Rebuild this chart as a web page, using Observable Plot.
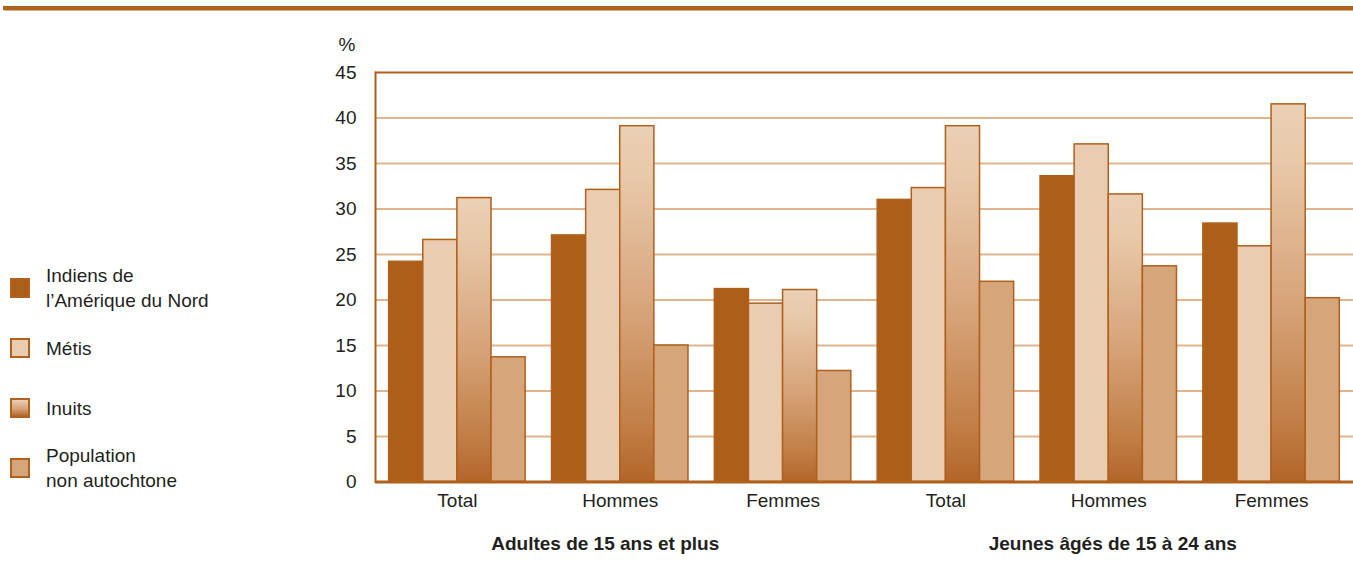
<!DOCTYPE html>
<html lang="fr">
<head>
<meta charset="utf-8">
<script src="https://cdn.jsdelivr.net/npm/d3@7"></script>
<script src="https://cdn.jsdelivr.net/npm/@observablehq/plot@0.6"></script>
<style>
  body { margin: 0; background: #fff; font-family: "Liberation Sans", Arial, sans-serif; color: #231f20; }
  #wrap { position: relative; width: 1353px; height: 577px; overflow: hidden; }
  #rule { position: absolute; left: 3px; right: 0; top: 6px; height: 4px; background: #b0621e; box-shadow: 0 0 1px 0.5px #dcab80; }
  #chart { position: absolute; left: 0; top: 0; }
  #legend { position: absolute; left: 10px; top: 258px; }
  .item { display: flex; align-items: center; height: 60px; }
  .sw { width: 20px; height: 20px; box-sizing: border-box; border: 2px solid #b0621e; flex: none; }
  .lab { margin-left: 16px; font-size: 19px; line-height: 25px; white-space: nowrap; }
</style>
</head>
<body>
<div id="wrap">
  <div id="rule"></div>
  <div id="chart"></div>
  <div id="legend"></div>
</div>
<script>
// Categories
const cohorts = ["Adultes de 15 ans et plus", "Jeunes âgés de 15 à 24 ans"];
const sexes = ["Total", "Hommes", "Femmes"];
const series = ["Indiens de l’Amérique du Nord", "Métis", "Inuits", "Population non autochtone"];
const legendLines = [["Indiens de", "l’Amérique du Nord"], ["Métis"], ["Inuits"], ["Population", "non autochtone"]];

// Percentages: Adultes (Total, Hommes, Femmes), then Jeunes (Total, Hommes, Femmes)
const indiens       = [24.2, 27.1, 21.2, 31.0, 33.6, 28.4];
const metis         = [26.6, 32.1, 19.6, 32.3, 37.1, 25.9];
const inuits        = [31.2, 39.1, 21.1, 39.1, 31.6, 41.5];
const nonAutochtone = [13.7, 15.0, 12.2, 22.0, 23.7, 20.2];

// Y axis ticks
const yTicks = [0, 5, 10, 15, 20, 25, 30, 35, 40, 45];

const valuesBySeries = [indiens, metis, inuits, nonAutochtone];
const groups = cohorts.flatMap(c => sexes.map(s => ({cohort: c, sex: s, key: `${c} — ${s}`})));
const rows = groups.flatMap((g, i) => series.map((s, j) => ({...g, series: s, value: valuesBySeries[j][i]})));

const brown = "#af601c";
const swatchFills = ["#ad5f19", "#eacdb1", "url(#inuits-gradient)", "#d6a579"];
const cssFills = ["#ad5f19", "#eacdb1", "linear-gradient(#ead0b5, #d6a277 55%, #b3652a)", "#d6a579"];

// Layout of the group band scale; each series takes a quarter of its group's band
const W = 1353, H = 577, mL = 375, mR = 0, mT = 72, mB = 95.5;
const padIn = 0.162, padOut = 0.084;
const band = d3.scaleBand(groups.map(g => g.key), [mL, W - mR]).paddingInner(padIn).paddingOuter(padOut).bandwidth();
const slot = band / series.length;
const fs = 19;

const chart = Plot.plot({
  width: W,
  height: H,
  marginLeft: mL,
  marginRight: mR,
  marginTop: mT,
  marginBottom: mB,
  style: {fontFamily: "Liberation Sans, Arial, sans-serif", fontSize: `${fs}px`, color: "#231f20", background: "transparent"},
  x: {domain: groups.map(g => g.key), paddingInner: padIn, paddingOuter: padOut, round: false, axis: null},
  y: {domain: [0, 45], axis: null},
  color: {domain: series, range: swatchFills},
  marks: [
    // horizontal grid
    Plot.ruleY(yTicks.filter(t => t > 0 && t < 45), {stroke: "#deb58f", strokeWidth: 2}),
    // grouped bars
    ...series.map((s, j) => Plot.barY(rows.filter(r => r.series === s), {
      x: "key", y: "value", fill: "series", stroke: brown, strokeWidth: 1.5,
      insetLeft: j * slot, insetRight: (series.length - 1 - j) * slot
    })),
    // frame: top, left and baseline
    Plot.ruleY([45], {stroke: brown, strokeWidth: 2}),
    Plot.frame({anchor: "left", stroke: brown, strokeWidth: 2}),
    Plot.ruleY([0], {stroke: brown, strokeWidth: 3}),
    // y axis and unit
    Plot.axisY({ticks: yTicks, tickSize: 0, tickPadding: 19, fontSize: fs, label: null}),
    Plot.text(["%"], {frameAnchor: "top-left", dx: -20, dy: -22, textAnchor: "end", lineAnchor: "bottom", fontSize: fs, fill: "#231f20"}),
    // sex labels under each group
    Plot.axisX({anchor: "bottom", tickSize: 0, tickPadding: 11, fontSize: fs, label: null, tickFormat: k => k.split(" — ")[1]}),
    // cohort labels
    Plot.text([{key: groups[1].key, label: cohorts[0]}], {x: "key", text: "label", frameAnchor: "bottom", lineAnchor: "bottom", dy: 67.5, dx: -15, fontWeight: "bold", fontSize: fs, fill: "#231f20"}),
    Plot.text([{key: groups[4].key, label: cohorts[1]}], {x: "key", text: "label", frameAnchor: "bottom", lineAnchor: "bottom", dy: 67.5, dx: 4, fontWeight: "bold", fontSize: fs, fill: "#231f20"})
  ]
});

// vertical shading for the Inuits bars
const defs = d3.select(chart).insert("defs", ":first-child");
const grad = defs.append("linearGradient")
  .attr("id", "inuits-gradient")
  .attr("x1", 0).attr("y1", 0).attr("x2", 0).attr("y2", 1);
[[0, "#ead0b5"], [0.15, "#e8c8a9"], [0.54, "#d6a277"], [0.86, "#c07c43"], [1, "#b3652a"]]
  .forEach(([o, c]) => grad.append("stop").attr("offset", o).attr("stop-color", c));

document.getElementById("chart").append(chart);

// legend
const legend = d3.select("#legend");
series.forEach((s, i) => {
  const item = legend.append("div").attr("class", "item");
  item.append("div").attr("class", "sw").style("background", cssFills[i]);
  item.append("div").attr("class", "lab").html(legendLines[i].join("<br>"));
});
</script>
</body>
</html>
